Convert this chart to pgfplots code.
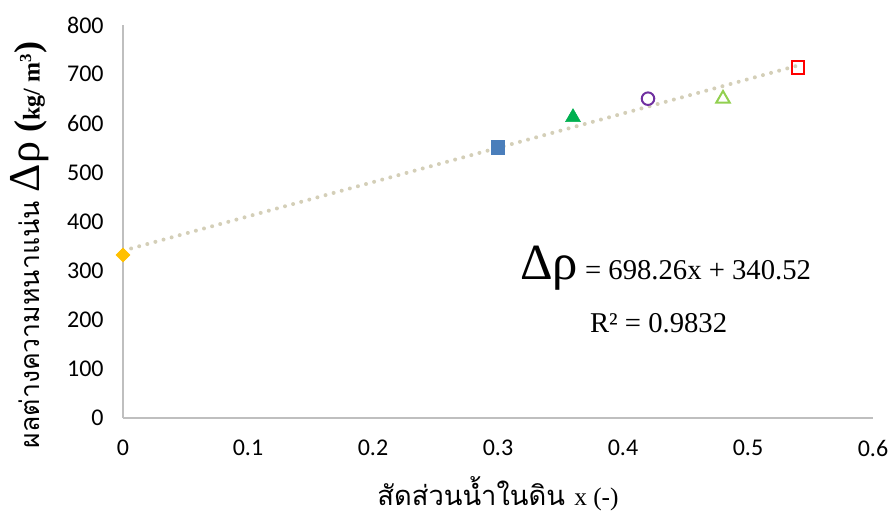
\documentclass[border=0pt]{standalone}
\usepackage{fontspec}
\setmainfont{Liberation Serif}
\newfontfamily\thaifont[Script=Thai]{Loma}
\newfontfamily\carlito{Carlito}
\usepackage{pgfplots}
\pgfplotsset{compat=1.18}
\definecolor{cyellow}{HTML}{FFC000}
\definecolor{cblue}{HTML}{4A7EBB}
\definecolor{cgreen}{HTML}{00B050}
\definecolor{cpurple}{HTML}{7030A0}
\definecolor{clgreen}{HTML}{92D050}
\definecolor{cred}{HTML}{FF0000}
\definecolor{ctrend}{HTML}{D4CFB8}
\definecolor{caxis}{HTML}{BFBFBF}
\begin{document}
\begin{tikzpicture}
\begin{axis}[
  scale only axis,
  width=562.5pt, height=294.75pt,
  xmin=0, xmax=0.6, ymin=0, ymax=800,
  axis lines*=left,
  axis line style={draw=caxis, line width=0.9pt, -},
  xtick={0,0.1,0.2,0.3,0.4,0.5,0.6},
  xticklabels={0,0.1,0.2,0.3,0.4,0.5,0.6},
  ytick={0,100,...,800},
  major tick length=0pt,
  /pgf/number format/assume math mode=true,
  tick label style={font=\carlito\fontsize{18}{21}\selectfont, text=black},
  xticklabel style={yshift=-13pt},
  yticklabel style={xshift=-11pt},
  clip=false,
  xlabel={\thaifont\fontsize{20.5}{24}\selectfont สัดส่วนน้ำในดิน {\rmfamily\fontsize{19}{22}\selectfont x (-)}},
  xlabel style={at={(rel axis cs:0.5,0)}, anchor=center, yshift=-57pt},
  ylabel={\thaifont\fontsize{20}{24}\selectfont ผลต่างความหนาแน่น {\rmfamily\fontsize{33}{33}\selectfont Δρ} {\rmfamily\bfseries\fontsize{27}{27}\selectfont (\fontsize{18}{18}\selectfont kg/ m\textsuperscript{3}\fontsize{27}{27}\selectfont)}},
  ylabel style={at={(rel axis cs:0,0.44)}, anchor=center, yshift=70pt},
]
\addplot[ctrend, line width=3pt, line cap=round, dash pattern=on 0pt off 6.3pt] coordinates {(0,340.52) (0.54,717.58)};
\addplot[only marks, mark=square*, mark size=3.7pt, mark options={rotate=45, fill=cyellow, draw=cyellow}] coordinates {(0,332)};
\addplot[only marks, mark=square*, mark size=5pt, mark options={fill=cblue, draw=cblue}] coordinates {(0.3,551)};
\addplot[only marks, mark=triangle*, mark size=6.5pt, mark options={fill=cgreen, draw=cgreen}] coordinates {(0.36,612)};
\addplot[only marks, mark=o, mark size=4.7pt, mark options={draw=cpurple, line width=1.5pt}] coordinates {(0.42,650)};
\addplot[only marks, mark=triangle, mark size=5.8pt, mark options={draw=clgreen, line width=1.5pt}] coordinates {(0.48,650)};
\addplot[only marks, mark=square, mark size=4.8pt, mark options={draw=cred, line width=1.5pt}] coordinates {(0.54,713)};
\node at (axis cs:0.434,305) {{\fontsize{38}{38}\selectfont Δρ}{\fontsize{21.5}{24}\selectfont\ = 698.26x + 340.52}};
\node at (axis cs:0.4285,193) {\fontsize{21.5}{24}\selectfont R² = 0.9832};
\end{axis}
\pgfresetboundingbox
\path[use as bounding box] ([xshift=-92.25pt,yshift=-75pt]current axis.south west) rectangle ([xshift=12pt,yshift=18.75pt]current axis.north east);
\end{tikzpicture}
\end{document}
